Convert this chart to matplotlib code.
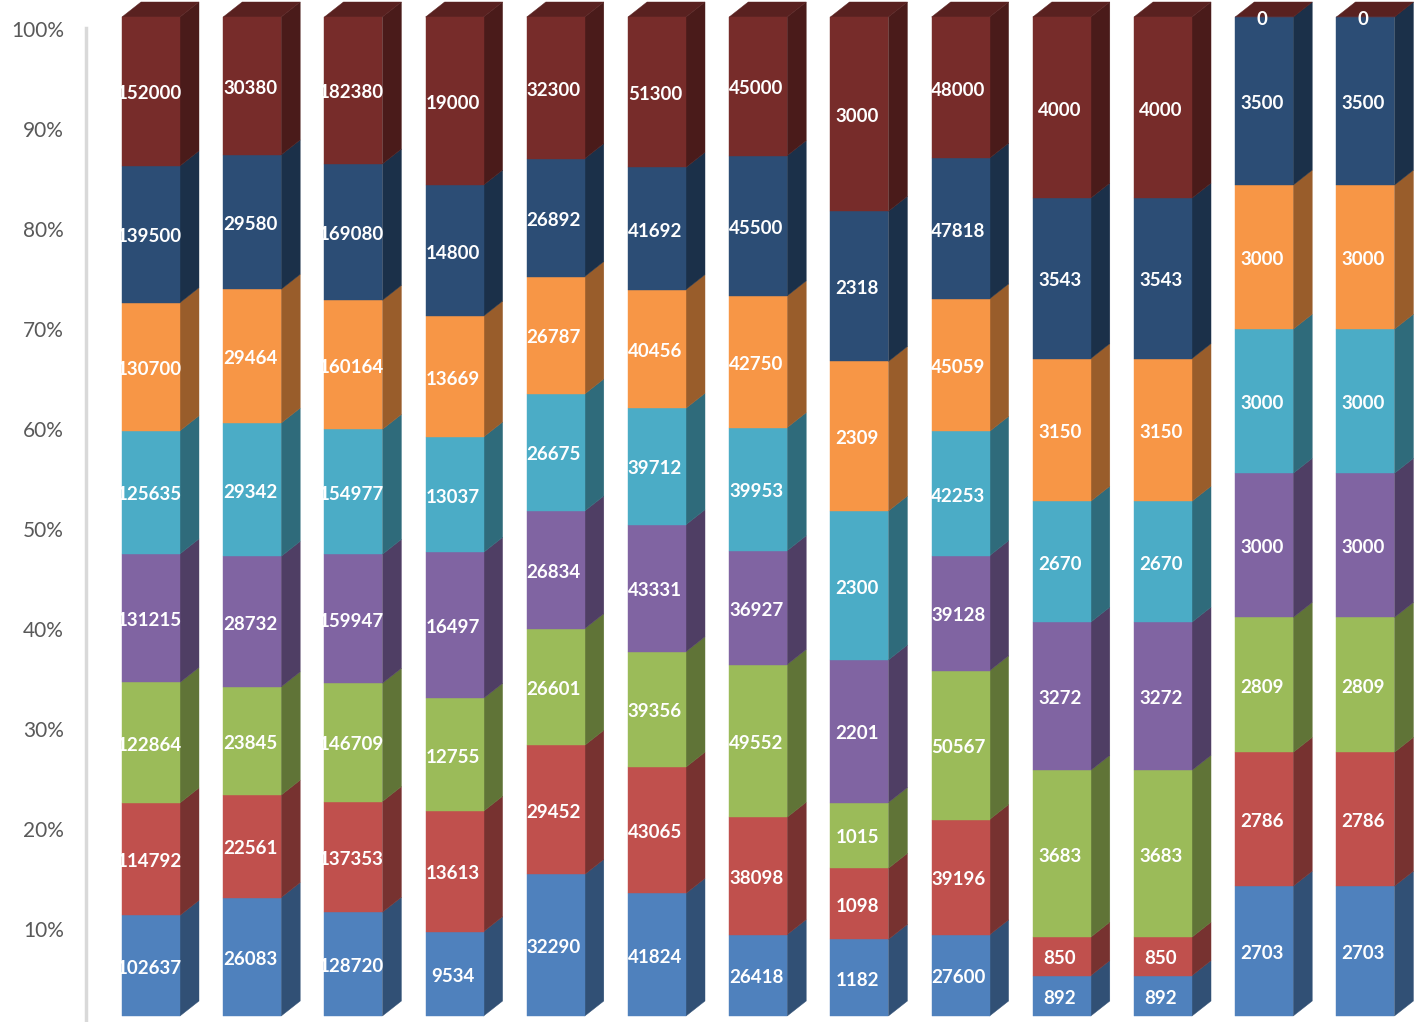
import numpy as np
import matplotlib
matplotlib.use("Agg")
import matplotlib.pyplot as plt
from matplotlib.patches import Polygon
from matplotlib import transforms, colors as mcolors

# Stacked series, bottom layer first (one value per column)
s1 = [102637, 26083, 128720, 9534, 32290, 41824, 26418, 1182, 27600, 892, 892, 2703, 2703]
s2 = [114792, 22561, 137353, 13613, 29452, 43065, 38098, 1098, 39196, 850, 850, 2786, 2786]
s3 = [122864, 23845, 146709, 12755, 26601, 39356, 49552, 1015, 50567, 3683, 3683, 2809, 2809]
s4 = [131215, 28732, 159947, 16497, 26834, 43331, 36927, 2201, 39128, 3272, 3272, 3000, 3000]
s5 = [125635, 29342, 154977, 13037, 26675, 39712, 39953, 2300, 42253, 2670, 2670, 3000, 3000]
s6 = [130700, 29464, 160164, 13669, 26787, 40456, 42750, 2309, 45059, 3150, 3150, 3000, 3000]
s7 = [139500, 29580, 169080, 14800, 26892, 41692, 45500, 2318, 47818, 3543, 3543, 3500, 3500]
s8 = [152000, 30380, 182380, 19000, 32300, 51300, 45000, 3000, 48000, 4000, 4000, 0, 0]

y_ticks = [0.0, 0.1, 0.2, 0.3, 0.4, 0.5, 0.6, 0.7, 0.8, 0.9, 1.0]
y_tick_labels = ["0%", "10%", "20%", "30%", "40%", "50%", "60%", "70%", "80%", "90%", "100%"]

series = [s1, s2, s3, s4, s5, s6, s7, s8]
face_colors = ["#4F81BD", "#C0504D", "#9BBB59", "#8064A2",
               "#4BACC6", "#F79646", "#2C4D75", "#772C2A"]

# Geometry of the pseudo-3D columns
bar_w = 0.573      # front face width (category units)
depth_x = 0.188    # side face horizontal depth
depth_y = 0.015    # side face vertical rise (fraction units)


def shade(c, f):
    r, g, b = mcolors.to_rgb(c)
    return (r * f, g * f, b * f)


W, H = 1416, 1022
fig = plt.figure(figsize=(W / 100, H / 100), dpi=100)
left = 86 / W
ax = fig.add_axes([left, 0, 1 - left, 1])
ax.set_xlim(-0.642, 12.5)
ax.set_ylim(-0.006, 1.017)

data = np.array(series, dtype=float)
totals = data.sum(axis=0)
frac = data / totals
n_series, n_cols = data.shape

label_shift = ax.transData + transforms.ScaledTranslation(0, -2.5 / 100, fig.dpi_scale_trans)

for j in range(n_cols):
    xl = j - bar_w / 2
    xr = j + bar_w / 2
    bottom = 0.0
    for i in range(n_series):
        h = frac[i, j]
        top = bottom + h
        fc = face_colors[i]
        # front face
        ax.add_patch(Polygon([(xl, bottom), (xr, bottom), (xr, top), (xl, top)],
                             closed=True, facecolor=fc, edgecolor=fc, lw=0.3, zorder=2))
        # side face
        ax.add_patch(Polygon([(xr, bottom), (xr + depth_x, bottom + depth_y),
                              (xr + depth_x, top + depth_y), (xr, top)],
                             closed=True, facecolor=shade(fc, 0.62),
                             edgecolor=shade(fc, 0.62), lw=0.3, zorder=1))
        # value label
        ax.text(j - 0.02, (bottom + top) / 2, f"{int(data[i, j])}",
                ha="center", va="center", color="white", fontsize=13.5,
                fontweight="bold", family=["Lato", "DejaVu Sans"], zorder=5,
                transform=label_shift)
        bottom = top
    # top face, coloured by the last series
    tc = shade(face_colors[-1], 0.75)
    ax.add_patch(Polygon([(xl, 1.0), (xr, 1.0), (xr + depth_x, 1.0 + depth_y),
                          (xl + depth_x, 1.0 + depth_y)],
                         closed=True, facecolor=tc, edgecolor=tc, lw=0.3, zorder=1))

# Axis styling
for side in ["top", "right", "bottom"]:
    ax.spines[side].set_visible(False)
ax.spines["left"].set_color("#D9D9D9")
ax.spines["left"].set_linewidth(2.5)
ax.spines["left"].set_bounds(-0.006, 0.989)
ax.set_xticks([])
ax.set_yticks(y_ticks)
ax.set_yticklabels(y_tick_labels, family=["Lato", "DejaVu Sans"], fontsize=15, color="#595959")
ax.tick_params(axis="y", length=0, pad=16)
shift = transforms.ScaledTranslation(0, -12.5 / 100, fig.dpi_scale_trans)
for lab in ax.get_yticklabels():
    lab.set_transform(lab.get_transform() + shift)

fig.savefig("out.png", dpi=100)
